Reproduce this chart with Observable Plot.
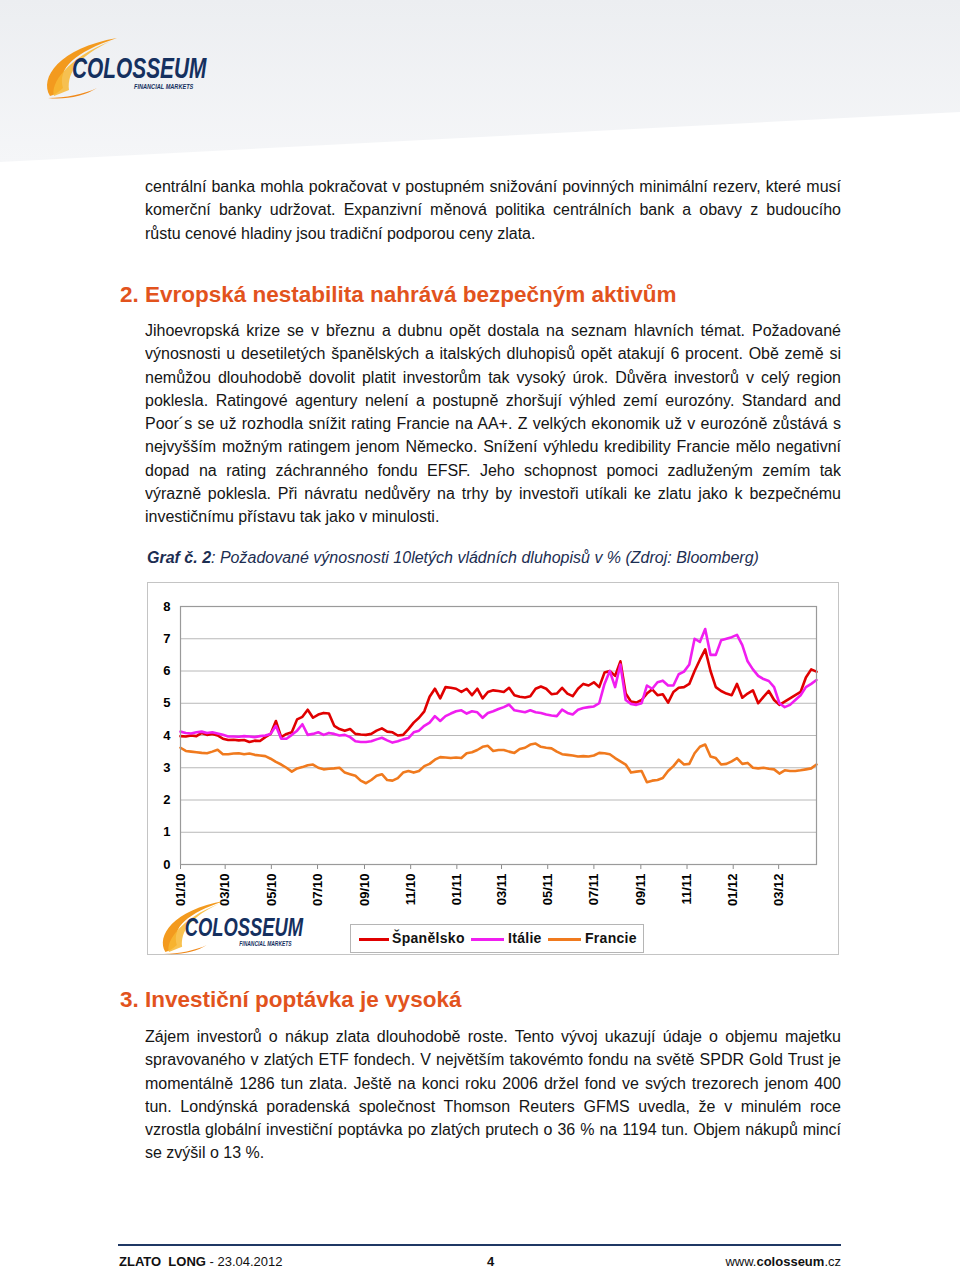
<!DOCTYPE html>
<html>
<head>
<meta charset="utf-8">
<script src="https://cdn.jsdelivr.net/npm/d3@7"></script>
<script src="https://cdn.jsdelivr.net/npm/@observablehq/plot@0.6"></script>
<style>
  html, body { margin: 0; padding: 0; background: #fff; }
  body { width: 960px; height: 1271px; position: relative; overflow: hidden;
         font-family: "Liberation Sans", Arial, sans-serif; color: #151515; }
  .abs { position: absolute; }
  .para { position: absolute; left: 145px; width: 696px; font-size: 16px; }
  .para div { height: 23.3px; line-height: 23.3px; white-space: nowrap; }
  .para div.j { text-align: justify; text-align-last: justify; white-space: normal; overflow: hidden; }
  h2 { position: absolute; left: 120px; margin: 0; font-size: 22.5px; font-weight: bold; color: #e2531d; }
  .cap { position: absolute; left: 147px; top: 549px; font-size: 16px; font-style: italic; color: #1c2e52; }
  .legend { position: absolute; left: 350px; top: 924px; width: 292px; height: 27px; border: 1px solid #b5b5b5; background: #fff;
            font-size: 14px; font-weight: bold; letter-spacing: 0.3px; color: #111; }
  .legend span { position: absolute; top: 5px; }
  .legend i { position: absolute; top: 13px; height: 2.5px; }
  .foot { position: absolute; top: 1254px; font-size: 13px; font-family: "Liberation Sans Narrow", "Arial Narrow", "Liberation Sans", sans-serif; color: #111; }
</style>
</head>
<body>
<svg class="abs" style="left:0;top:0" width="960" height="170">
  <defs>
    <linearGradient id="hg" x1="0" y1="0" x2="0" y2="1">
      <stop offset="0" stop-color="#eceef1"/>
      <stop offset="1" stop-color="#f5f6f8"/>
    </linearGradient>
  </defs>
  <polygon points="0,0 960,0 960,112 0,162" fill="url(#hg)"/>
</svg>

<div id="logoTop" class="abs" style="left:45px;top:38px"></div>

<div class="para" style="top:175px">
  <div class="j">centrální banka mohla pokračovat v postupném snižování povinných minimální rezerv, které musí</div>
  <div class="j">komerční banky udržovat. Expanzivní měnová politika centrálních bank a obavy z budoucího</div>
  <div>růstu cenové hladiny jsou tradiční podporou ceny zlata.</div>
</div>

<h2 style="top:282px">2. Evropská nestabilita nahrává bezpečným aktivům</h2>

<div class="para" style="top:319px">
  <div class="j">Jihoevropská krize se v březnu a dubnu opět dostala na seznam hlavních témat. Požadované</div>
  <div class="j">výnosnosti u desetiletých španělských a italských dluhopisů opět atakují 6 procent. Obě země si</div>
  <div class="j">nemůžou dlouhodobě dovolit platit investorům tak vysoký úrok. Důvěra investorů v celý region</div>
  <div class="j">poklesla. Ratingové agentury nelení a postupně zhoršují výhled zemí eurozóny. Standard and</div>
  <div class="j">Poor´s se už rozhodla snížit rating Francie na AA+. Z velkých ekonomik už v eurozóně zůstává s</div>
  <div class="j">nejvyšším možným ratingem jenom Německo. Snížení výhledu kredibility Francie mělo negativní</div>
  <div class="j">dopad na rating záchranného fondu EFSF. Jeho schopnost pomoci zadluženým zemím tak</div>
  <div class="j">výrazně poklesla. Při návratu nedůvěry na trhy by investoři utíkali ke zlatu jako k bezpečnému</div>
  <div>investičnímu přístavu tak jako v minulosti.</div>
</div>

<div class="cap"><b>Graf č. 2</b>: Požadované výnosnosti 10letých vládních dluhopisů v % (Zdroj: Bloomberg)</div>

<div class="abs" style="left:147px;top:582px;width:690px;height:371px;border:1px solid #c4c4c4;"></div>
<div id="chart" class="abs" style="left:147px;top:582px"></div>
<div id="logoChart" class="abs" style="left:161px;top:901px"></div>

<div class="legend">
  <i style="left:8px;width:30px;background:#e00000"></i><span style="left:41px">Španělsko</span>
  <i style="left:120px;width:33px;background:#f01ef0"></i><span style="left:157px">Itálie</span>
  <i style="left:197px;width:33px;background:#f07a1e"></i><span style="left:234px">Francie</span>
</div>

<h2 style="top:987px">3. Investiční poptávka je vysoká</h2>

<div class="para" style="top:1025px">
  <div class="j">Zájem investorů o nákup zlata dlouhodobě roste. Tento vývoj ukazují údaje o objemu majetku</div>
  <div class="j">spravovaného v zlatých ETF fondech. V největším takovémto fondu na světě SPDR Gold Trust je</div>
  <div class="j">momentálně 1286 tun zlata. Ještě na konci roku 2006 držel fond ve svých trezorech jenom 400</div>
  <div class="j">tun. Londýnská poradenská společnost Thomson Reuters GFMS uvedla, že v minulém roce</div>
  <div class="j">vzrostla globální investiční poptávka po zlatých prutech o 36 % na 1194 tun. Objem nákupů mincí</div>
  <div>se zvýšil o 13 %.</div>
</div>

<div class="abs" style="left:118px;top:1244px;width:723px;height:2px;background:#1f3864"></div>
<div class="foot" style="left:119px"><b>ZLATO&nbsp; LONG</b> - 23.04.2012</div>
<div class="foot" style="left:487px"><b>4</b></div>
<div class="foot" style="right:119px">www.<b>colosseum</b>.cz</div>

<script>
// ---- data (10y government bond yields, %, weekly readings) ----
const startDate = "2010-01-01";
const stepDays = 7;
const endDate = "2012-04-20";
const countries = ["Španělsko", "Itálie", "Francie"];
const colors = ["#e00000", "#f01ef0", "#f07a1e"];
const yTicks = [0, 1, 2, 3, 4, 5, 6, 7, 8];
const xTickLabels = ["01/10","03/10","05/10","07/10","09/10","11/10","01/11","03/11","05/11","07/11","09/11","11/11","01/12","03/12"];

const spain = [3.98,3.97,4.00,3.98,4.08,4.02,4.05,4.00,3.90,3.86,3.87,3.85,3.86,3.80,3.84,3.83,3.95,4.05,4.45,3.95,
  4.05,4.10,4.50,4.58,4.80,4.55,4.65,4.70,4.68,4.30,4.20,4.15,4.20,4.05,4.03,4.02,4.05,4.15,4.22,4.12,
  4.10,4.00,4.02,4.20,4.40,4.55,4.75,5.20,5.45,5.15,5.50,5.48,5.45,5.35,5.45,5.25,5.45,5.15,5.35,5.40,
  5.38,5.35,5.48,5.25,5.20,5.18,5.22,5.45,5.52,5.45,5.28,5.30,5.48,5.30,5.22,5.45,5.60,5.55,5.65,5.50,
  5.95,6.00,5.85,6.30,5.30,5.05,5.02,5.10,5.30,5.43,5.25,5.28,5.02,5.35,5.48,5.50,5.60,6.00,6.35,6.67,
  6.00,5.50,5.38,5.30,5.25,5.60,5.17,5.30,5.40,5.00,5.20,5.38,5.10,4.95,5.05,5.15,5.25,5.35,5.80,6.05,5.98];

const italy = [4.12,4.08,4.06,4.10,4.12,4.08,4.10,4.06,4.02,3.97,3.97,3.96,3.98,3.97,3.95,3.98,4.00,4.05,4.30,3.90,
  3.90,4.02,4.15,4.35,4.02,4.05,4.10,4.02,4.08,4.05,4.00,4.02,3.95,3.82,3.80,3.80,3.82,3.88,3.93,3.85,
  3.78,3.82,3.88,3.92,4.10,4.15,4.30,4.40,4.60,4.45,4.60,4.68,4.75,4.78,4.68,4.75,4.72,4.55,4.70,4.75,
  4.82,4.88,4.96,4.78,4.75,4.72,4.78,4.72,4.70,4.65,4.62,4.60,4.80,4.70,4.65,4.80,4.85,4.88,4.90,5.00,
  5.60,6.00,5.50,6.20,5.10,4.98,4.95,5.00,5.55,5.45,5.65,5.70,5.55,5.55,5.90,5.98,6.20,7.00,6.90,7.30,
  6.50,6.50,6.95,7.00,7.05,7.12,6.80,6.30,6.05,5.85,5.75,5.69,5.50,5.00,4.88,4.95,5.10,5.25,5.50,5.60,5.72];

const france = [3.62,3.52,3.50,3.48,3.46,3.45,3.50,3.56,3.42,3.42,3.44,3.45,3.42,3.44,3.40,3.38,3.36,3.28,3.18,3.10,
  3.00,2.88,2.98,3.02,3.08,3.10,3.00,2.95,2.97,2.98,3.00,2.85,2.80,2.75,2.60,2.52,2.62,2.75,2.80,2.62,
  2.60,2.68,2.85,2.90,2.85,2.90,3.05,3.12,3.25,3.33,3.32,3.30,3.32,3.30,3.45,3.48,3.55,3.65,3.68,3.52,
  3.55,3.55,3.50,3.46,3.58,3.62,3.72,3.75,3.65,3.62,3.60,3.50,3.42,3.40,3.38,3.35,3.36,3.35,3.38,3.46,
  3.45,3.42,3.30,3.20,3.10,2.85,2.88,2.90,2.55,2.60,2.62,2.68,2.90,3.05,3.25,3.10,3.12,3.45,3.65,3.72,
  3.35,3.30,3.10,3.12,3.20,3.30,3.12,3.15,3.00,2.98,3.00,2.97,2.95,2.82,2.92,2.90,2.90,2.92,2.95,2.98,3.10];

// ---- build table ----
const t0 = new Date(startDate + "T00:00:00Z");
const dateAt = i => new Date(t0.getTime() + i * stepDays * 864e5);
const series = [spain, italy, france];
const rows = [];
series.forEach((vals, k) => vals.forEach((v, i) => rows.push({date: dateAt(i), value: v, country: countries[k]})));
const parseTick = d3.utcParse("%m/%y");
const xTicks = xTickLabels.map(parseTick);

const chart = Plot.plot({
  width: 692,
  height: 373,
  marginLeft: 33,
  marginRight: 23,
  marginTop: 24,
  marginBottom: 91,
  style: {fontFamily: "'Liberation Sans', Arial, sans-serif", background: "transparent", overflow: "visible", color: "#000"},
  x: {type: "utc", domain: [t0, new Date(endDate + "T00:00:00Z")]},
  y: {domain: [0, 8]},
  color: {domain: countries, range: colors},
  marks: [
    Plot.gridY(yTicks, {stroke: "#b8b8b8", strokeOpacity: 1, strokeWidth: 1}),
    Plot.axisY(yTicks, {tickSize: 0, tickPadding: 10, fontWeight: "bold", fontSize: 13, label: null, fill: "#000"}),
    Plot.axisX(xTicks, {tickFormat: d3.utcFormat("%m/%y"), tickRotate: -90, fontWeight: "bold", fontSize: 13,
      tickSize: 5, tickPadding: 4, label: null, stroke: "#8c8c8c", fill: "#000"}),
    Plot.lineY(rows, {x: "date", y: "value", z: "country", stroke: "country", strokeWidth: 2.6, strokeLinejoin: "round"}),
    Plot.frame({stroke: "#9a9a9a", strokeWidth: 1.2})
  ]
});
document.getElementById("chart").appendChild(chart);

// ---- logos (decoration) ----
function logo(scale) {
  const w = 240 * scale, h = 62 * scale;
  return `<svg width="${w}" height="${h}" viewBox="0 0 240 62" style="overflow:visible">
    <path d="M5 58 C -6 40, 14 10, 72 0 C 30 14, 12 30, 18 50 C 14 54, 9 57, 5 58 Z" fill="#f39a1e"/>
    <path d="M9 58 C 5 46, 22 20, 66 3 C 34 18, 22 34, 24 52 Z" fill="#f7b733" opacity="0.85"/>
    <path d="M3 60 C 20 60, 40 56, 52 50 C 40 58, 20 62, 3 60 Z" fill="#f08a1c"/>
    <g transform="translate(27,40) scale(0.72,1)">
      <text x="0" y="0" font-family="'Liberation Sans',Arial,sans-serif" font-weight="bold" font-style="italic"
        font-size="29" fill="#15305f">COLOSSEUM</text>
    </g>
    <g transform="translate(89,51) scale(0.72,1)">
      <text x="0" y="0" font-family="'Liberation Sans',Arial,sans-serif" font-style="italic" font-weight="bold"
        font-size="7.8" fill="#15305f">FINANCIAL MARKETS</text>
    </g>
  </svg>`;
}
document.getElementById("logoTop").innerHTML = logo(1);
document.getElementById("logoChart").innerHTML = logo(0.88);
</script>
</body>
</html>
